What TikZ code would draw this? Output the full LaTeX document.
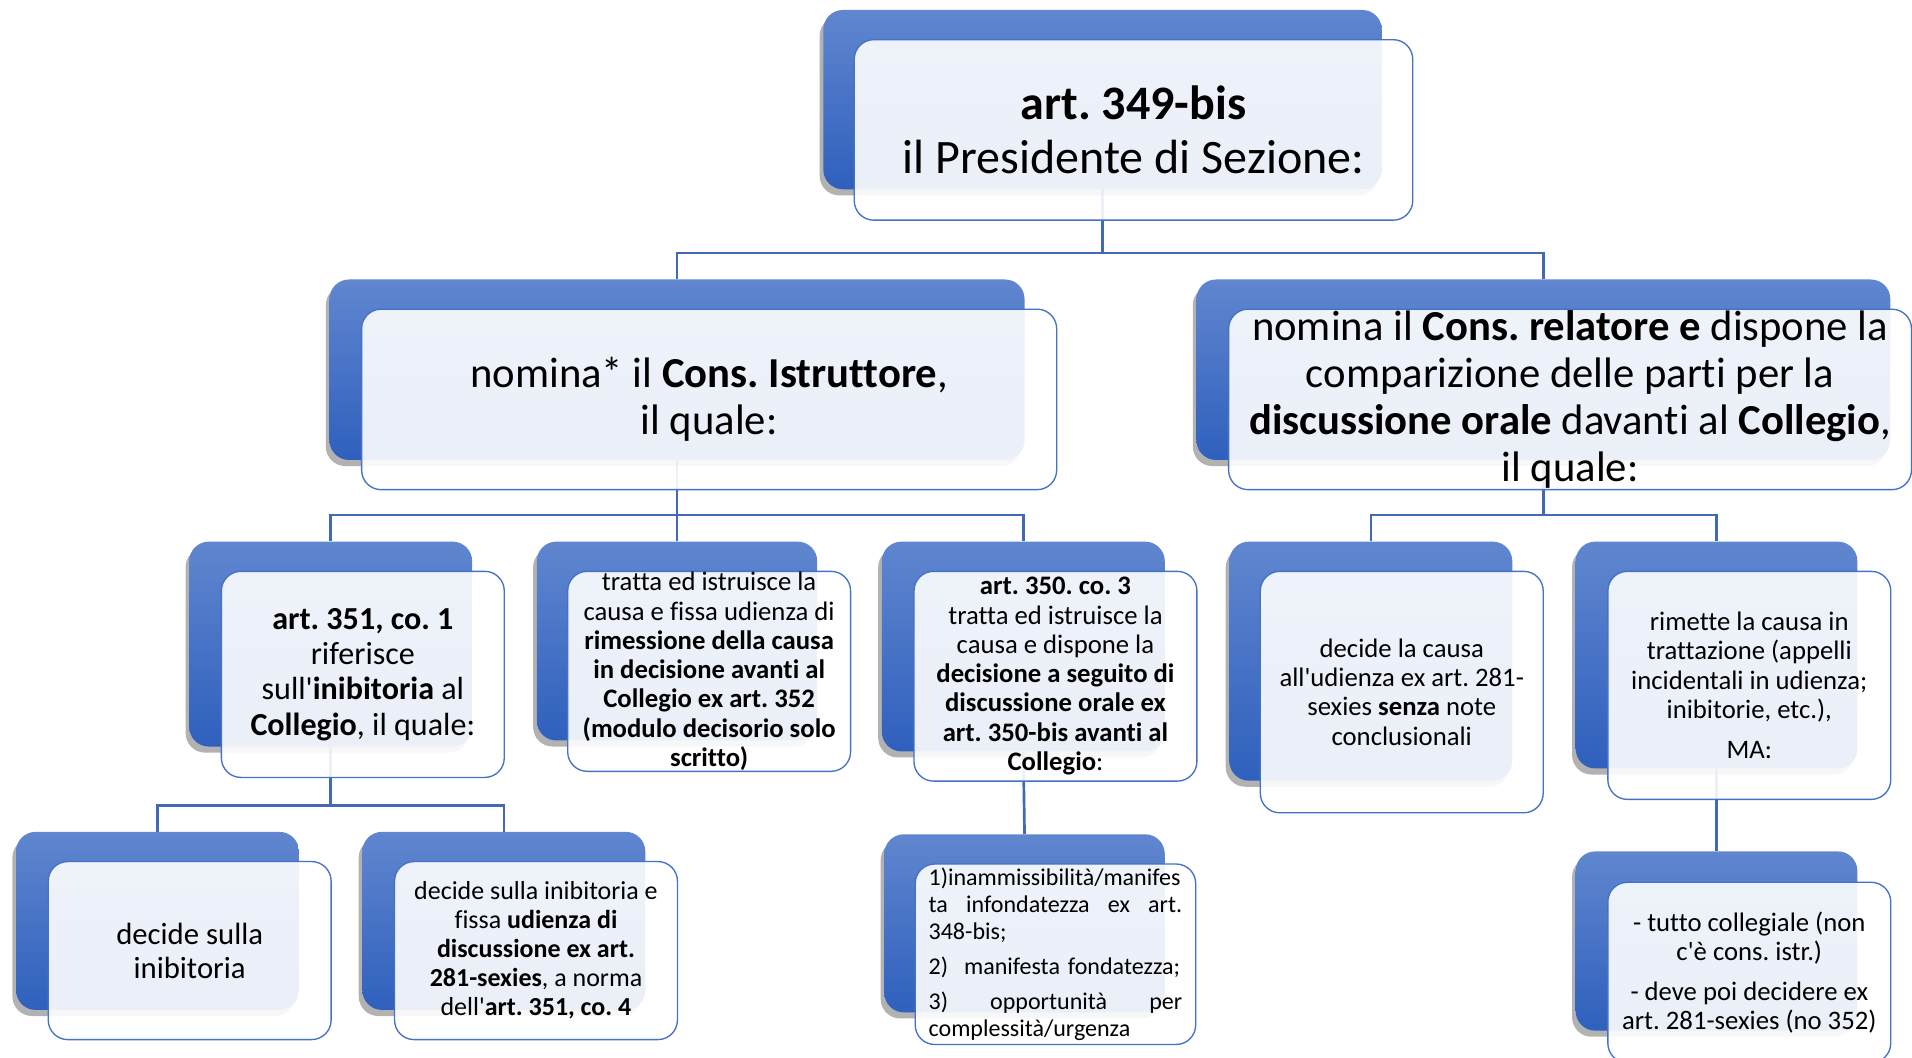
\documentclass[tikz,border=0pt]{standalone}
\usepackage{fontspec}
\setmainfont{Carlito}[Ligatures={TeXOff,CommonOff}]
\usepackage{tikz}
\usetikzlibrary{shadows}
\usetikzlibrary{backgrounds}
\frenchspacing

\definecolor{cardtop}{RGB}{96,134,207}
\definecolor{cardbot}{RGB}{47,96,189}
\definecolor{cardline}{RGB}{68,114,196}
\definecolor{linkblue}{RGB}{66,106,180}

\tikzset{
  back/.style={anchor=north west, rounded corners=16pt, top color=cardtop,
    bottom color=cardbot, draw=none, inner sep=0pt,
    drop shadow={shadow xshift=-3pt, shadow yshift=-5pt, opacity=.3, fill=black}},
  front/.style={anchor=north west, rounded corners=16pt, draw=cardline,
    line width=1.1pt, fill=white, fill opacity=.9, text opacity=1,
    inner sep=0pt, align=center},
  link/.style={draw=linkblue, line width=2.2pt},
}

\begin{document}
\begin{tikzpicture}[x=1pt, y=-1pt]
            \useasboundingbox (0,0) rectangle (1568,867);

            % Presidente
            \node[back, minimum width=458, minimum height=147] (presB) at (675,8) {};
            \node[front, minimum width=458, minimum height=148,
                  font=\fontsize{39.4}{44}\selectfont] (pres) at (700,32)
                {\textbf{art. 349-bis}\\ il Presidente di Sezione:};

            % istruttore
            \node[back, minimum width=570, minimum height=148] (istrB) at (270,229) {};
            \node[front, minimum width=570, minimum height=148,
                  font=\fontsize{35}{39}\selectfont] (istr) at (296,253)
                {nomina* il \textbf{Cons. Istruttore},\\ il quale:};

            % relatore
            \node[back, minimum width=569, minimum height=148] (relB) at (981,229) {};
            \node[front, minimum width=560, minimum height=148,
                  font=\fontsize{35}{38.5}\selectfont] (rel) at (1007,253)
                {nomina il \textbf{Cons. relatore e} dispone la\\
                 comparizione delle parti per la\\
                 \textbf{discussione orale} davanti al \textbf{Collegio},\\
                 il quale:};

            % art. 351
            \node[back, minimum width=232, minimum height=168] (riferB) at (155,444) {};
            \node[front, minimum width=232, minimum height=169,
                  font=\fontsize{26.3}{29}\selectfont] (rifer) at (181,468)
                {\textbf{art. 351, co. 1}\\ riferisce\\
                 sull'\textbf{inibitoria} al\\ \textbf{Collegio}, il quale:};

            % art. 352
            \node[back, minimum width=230, minimum height=163] (rimessB) at (440,444) {};
            \node[front, minimum width=232, minimum height=164,
                  font=\fontsize{21.9}{24}\selectfont] (rimess) at (465,468)
                {tratta ed istruisce la\\ causa e fissa udienza di\\
                 \textbf{rimessione della causa}\\ \textbf{in decisione avanti al}\\
                 \textbf{Collegio ex art. 352}\\ \textbf{(modulo decisorio solo}\\
                 \textbf{scritto)}};

            % art. 350
            \node[back, minimum width=232, minimum height=172] (orB) at (723,444) {};
            \node[front, minimum width=232, minimum height=172,
                  font=\fontsize{21.9}{24}\selectfont] (or) at (749,468)
                {\textbf{art. 350. co. 3}\\ tratta ed istruisce la\\
                 causa e dispone la\\ \textbf{decisione a seguito di}\\
                 \textbf{discussione orale ex}\\ \textbf{art. 350-bis avanti al}\\
                 \textbf{Collegio}:};

            \node[back, minimum width=232, minimum height=146] (inibB) at (13,682) {};
            \node[front, minimum width=232, minimum height=146,
                  font=\fontsize{25.2}{28}\selectfont] (inib) at (39,706)
                {decide sulla\\ inibitoria};

            \node[back, minimum width=232, minimum height=146] (fissaB) at (297,682) {};
            \node[front, minimum width=232, minimum height=146,
                  font=\fontsize{21.3}{23.75}\selectfont] (fissa) at (323,706)
                {decide sulla inibitoria e\\ fissa \textbf{udienza di}\\
                 \textbf{discussione ex art.}\\ \textbf{281-sexies}, a norma\\
                 dell'\textbf{art. 351, co. 4}};

            \node[back, minimum width=230, minimum height=146] (casiB) at (725,684) {};
            \node[front, minimum width=230, minimum height=148, text width=208, align=left,
                  font=\fontsize{19.7}{22}\selectfont] (casi) at (750,708)
                {1)inammissibilità/manifes\\
                 \makebox[208pt]{ta\hfill infondatezza\hfill ex\hfill art.}\\
                 348-bis;\\[7pt]
                 2)\ \ manifesta fondatezza;\\[7pt]
                 \makebox[208pt]{3)\hfill opportunità\hfill per}\\
                 complessità/urgenza};

            % relatore: figli
            \node[back, minimum width=232, minimum height=196] (decB) at (1008,444) {};
            \node[front, minimum width=232, minimum height=198,
                  font=\fontsize{21.9}{24}\selectfont] (dec) at (1033,468)
                {decide la causa\\ all'udienza ex art. 281-\\
                 sexies \textbf{senza} note\\ conclusionali};

            \node[back, minimum width=231, minimum height=186] (trattB) at (1292,444) {};
            \node[front, minimum width=232, minimum height=187,
                  font=\fontsize{21.9}{24}\selectfont] (tratt) at (1318,468)
                {rimette la causa in\\ trattazione (appelli\\
                 incidentali in udienza;\\ inibitorie, etc.),\\[9pt] MA:};

            \node[back, minimum width=231, minimum height=147] (collB) at (1292,698) {};
            \node[front, minimum width=232, minimum height=148,
                  font=\fontsize{21.9}{24}\selectfont] (coll) at (1318,723)
                {- tutto collegiale (non\\ c'è cons. istr.)\\[9pt]
                 - deve poi decidere ex\\ art. 281-sexies (no 352)};

            \begin{scope}[on background layer]
            \fill[white] (0,0) rectangle (1568,867);
            \draw[link] (presB.south) -- ++(0,52) -| (istrB.north);
            \draw[link] (presB.south) -- ++(0,52) -| (relB.north);
            \draw[link] (istrB.south) -- ++(0,45) -| (riferB.north);
            \draw[link] (istrB.south) -- (rimessB.north);
            \draw[link] (istrB.south) -- ++(0,45) -| (orB.north);
            \draw[link] (relB.south) -- ++(0,45) -| (decB.north);
            \draw[link] (relB.south) -- ++(0,45) -| (trattB.north);
            \draw[link] (riferB.south) -- ++(0,48) -| (inibB.north);
            \draw[link] (riferB.south) -- ++(0,48) -| (fissaB.north);
            \draw[link] (orB.south) -- (casiB.north);
            \draw[link] (trattB.south) -- (collB.north);
            \end{scope}
        \end{tikzpicture}
\end{document}
